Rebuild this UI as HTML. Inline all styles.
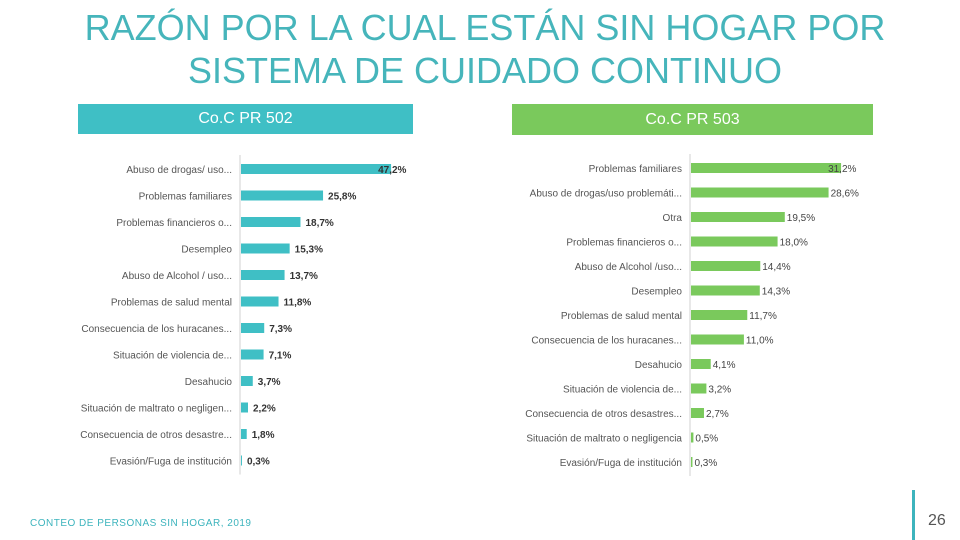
<!DOCTYPE html>
<html><head><meta charset="utf-8">
<style>
body{margin:0;width:960px;height:540px;background:#fff;font-family:"Liberation Sans",sans-serif;position:relative;overflow:hidden}
.title{position:absolute;left:30px;top:6px;width:910px;text-align:center;font-size:36px;line-height:43px;color:#46b5bb}
.hdr{position:absolute;color:#fff;font-size:16px;text-align:center;line-height:30px}
svg{position:absolute;left:0;top:0}
</style></head><body>
<div class="title">RAZÓN POR LA CUAL ESTÁN SIN HOGAR POR<br>SISTEMA DE CUIDADO CONTINUO</div>
<div class="hdr" style="left:78px;top:104px;width:335px;height:30px;background:#3fbfc5;">Co.C PR 502</div>
<div class="hdr" style="left:512px;top:104px;width:361px;height:31px;background:#7ac95c;line-height:31px">Co.C PR 503</div>
<svg id="chart" width="960" height="540"></svg>
<div style="position:absolute;left:30px;top:518px;font-size:10px;color:#3db4bd;letter-spacing:0.5px">CONTEO DE PERSONAS SIN HOGAR, 2019</div>
<div style="position:absolute;left:912px;top:490px;width:3px;height:50px;background:#3db4bd"></div>
<div style="position:absolute;left:928px;top:512px;font-size:16px;color:#555">26</div>
<script>
const leftCats=["Abuso de drogas/ uso...","Problemas familiares","Problemas financieros o...","Desempleo","Abuso de Alcohol / uso...","Problemas de salud mental","Consecuencia de los huracanes...","Situación de violencia de...","Desahucio","Situación de maltrato o negligen...","Consecuencia de otros desastre...","Evasión/Fuga de institución"];
const leftVals=[47.2,25.8,18.7,15.3,13.7,11.8,7.3,7.1,3.7,2.2,1.8,0.3];
const rightCats=["Problemas familiares","Abuso de drogas/uso problemáti...","Otra","Problemas financieros o...","Abuso de Alcohol /uso...","Desempleo","Problemas de salud mental","Consecuencia de los huracanes...","Desahucio","Situación de violencia de...","Consecuencia de otros desastres...","Situación de maltrato o negligencia","Evasión/Fuga de institución"];
const rightVals=[31.2,28.6,19.5,18.0,14.4,14.3,11.7,11.0,4.1,3.2,2.7,0.5,0.3];
const svg=document.getElementById('chart');
const NS='http://www.w3.org/2000/svg';
function mk(t,a){const e=document.createElementNS(NS,t);for(const k in a)e.setAttribute(k,a[k]);svg.appendChild(e);return e;}
function draw(cats,vals,o){
  const x=v=>o.x0+v*o.scale;
  const y=i=>o.y0+i*o.step;
  const mx=Math.max(...vals);
  const ax=mk('line',{x1:o.x0,x2:o.x0,y1:o.y0-14,y2:y(cats.length-1)+14,stroke:'#d0d0d0','stroke-width':1});
  
  
  cats.forEach((c,i)=>{
    const l=mk('text',{x:o.x0-8,y:y(i)+4,'text-anchor':'end','font-size':10,fill:'#555'});l.textContent=c;
    
    
    const b=mk('rect',{x:o.x0+1,y:y(i)-5,width:Math.max(0.5,x(vals[i])-o.x0),height:10,fill:o.color});
    
    
    let lx=x(vals[i])+(o.bold?6:3);
    if(vals[i]===mx)lx=x(vals[i])-12;
    const v=mk('text',{x:lx,y:y(i)+4,'font-size':10,fill:o.bold?'#333':'#444','font-weight':o.bold?'bold':'normal'});
    v.textContent=vals[i].toFixed(1).replace('.',',')+'%';
    
    
  });
}
draw(leftCats,leftVals,{x0:240,scale:3.18,y0:169,step:26.5,color:'#3fbfc5',bold:true,pre:'coc502'});
draw(rightCats,rightVals,{x0:690,scale:4.81,y0:168,step:24.5,color:'#7ac95c',bold:false,pre:'coc503'});
</script>
</body></html>
